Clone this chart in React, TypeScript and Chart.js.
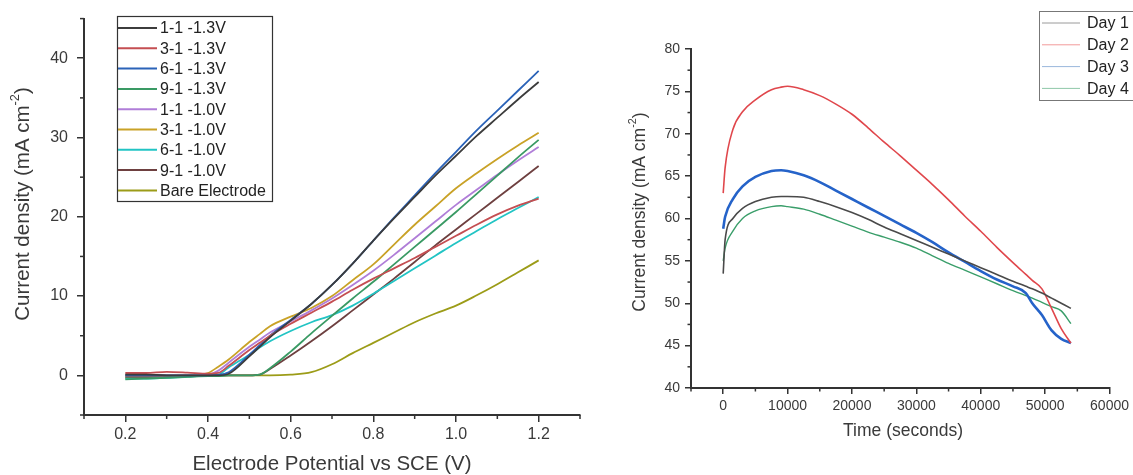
import React, { useEffect, useRef } from "react";
import { Chart, registerables } from "chart.js";

Chart.register(...registerables);

const FONT = '"Liberation Sans", Arial, Helvetica, sans-serif';

// ---------- Left chart: LSV ----------
const potentials = [0.2, 0.25, 0.3, 0.35, 0.4, 0.425, 0.45, 0.5, 0.525, 0.55, 0.6, 0.65, 0.7, 0.75, 0.8, 0.85, 0.9, 0.95, 1.0, 1.05, 1.1, 1.15, 1.2];
const lsvLabels = ["1-1 -1.3V", "3-1 -1.3V", "6-1 -1.3V", "9-1 -1.3V", "1-1 -1.0V", "3-1 -1.0V", "6-1 -1.0V", "9-1 -1.0V", "Bare Electrode"];
const lsvColors = ["#3c3c3c", "#c44e52", "#2b63b8", "#3a9a64", "#b07ed8", "#c9a227", "#22c4c4", "#6e4040", "#9c9c18"];
const s11_13 = [0.1, 0.1, 0, 0, 0, 0, 0.2, 2.4, 3.6, 4.8, 6.9, 9.0, 11.4, 14.1, 17.0, 19.8, 22.5, 25.2, 27.7, 30.2, 32.5, 34.8, 37.0];
const s31_13 = [0.3, 0.3, 0.45, 0.35, 0.2, 0.3, 1.2, 3.2, 4.1, 5.0, 6.5, 7.9, 9.3, 10.8, 12.2, 13.5, 14.8, 16.2, 17.6, 19.0, 20.3, 21.4, 22.3];
const s61_13 = [0, 0, 0, 0, 0, 0.05, 0.4, 2.6, 3.8, 5.0, 7.0, 9.0, 11.4, 14.1, 17.0, 19.9, 22.7, 25.5, 28.2, 30.9, 33.4, 35.9, 38.4];
const s91_13 = [-0.5, -0.4, -0.3, -0.2, -0.1, -0.1, 0, 0, 0.1, 0.9, 3.0, 5.3, 7.5, 9.7, 11.8, 14.0, 16.2, 18.4, 20.6, 22.9, 25.2, 27.5, 29.7];
const s11_10 = [0, 0, 0, 0, 0.1, 0.6, 1.6, 3.6, 4.5, 5.4, 6.8, 8.2, 9.7, 11.4, 13.2, 15.2, 17.3, 19.4, 21.5, 23.4, 25.3, 27.1, 28.8];
const s31_10 = [0, 0, 0, 0, 0.3, 1.1, 2.0, 4.2, 5.2, 6.2, 7.4, 8.5, 10.0, 12.0, 14.0, 16.5, 19.0, 21.3, 23.6, 25.5, 27.3, 29.0, 30.6];
const s61_10 = [-0.4, -0.4, -0.3, -0.2, 0, 0.1, 1.0, 2.6, 3.5, 4.3, 5.6, 6.7, 7.6, 8.8, 10.3, 11.9, 13.5, 15.1, 16.7, 18.2, 19.7, 21.1, 22.5];
const s91_10 = [-0.2, -0.2, -0.1, 0, 0, 0, 0, 0, 0.1, 0.8, 2.5, 4.3, 6.2, 8.2, 10.2, 12.2, 14.3, 16.4, 18.4, 20.4, 22.4, 24.4, 26.4];
const sBare = [-0.3, -0.3, -0.2, -0.1, 0, 0, 0, 0, 0, 0, 0.1, 0.4, 1.4, 2.8, 4.1, 5.4, 6.7, 7.8, 8.8, 10.1, 11.5, 13.0, 14.5];
const lsvSeries = [s11_13, s31_13, s61_13, s91_13, s11_10, s31_10, s61_10, s91_10, sBare];
const lsvXMajor = [0.2, 0.4, 0.6, 0.8, 1.0, 1.2];
const lsvXMinor = [0.1, 0.3, 0.5, 0.7, 0.9, 1.1, 1.3];
const lsvYMajor = [0, 10, 20, 30, 40];
const lsvYMinor = [-5, 5, 15, 25, 35, 45];

// ---------- Right chart: chronoamperometry ----------
const times = [0, 300, 1500, 3000, 5000, 7500, 9000, 10000, 12500, 15000, 17500, 20000, 22500, 25000, 27500, 30000, 32500, 35000, 37500, 40000, 42500, 45000, 47000, 48000, 49500, 51000, 52500, 54000];
const dayLabels = ["Day 1", "Day 2", "Day 3", "Day 4"];
const dayColors = ["#4a4a4a", "#e0474c", "#2563c9", "#3a9e6a"];
const dayLegendColors = ["#9a9a9a", "#f29a9a", "#9ab8dc", "#8fc8a8"];
const dayWidths = [1.6, 1.6, 2.6, 1.4];
const day1 = [53.5, 57.5, 60.0, 61.2, 62.0, 62.5, 62.6, 62.6, 62.5, 62.0, 61.4, 60.7, 59.9, 59.0, 58.2, 57.4, 56.6, 55.8, 55.0, 54.2, 53.4, 52.6, 52.0, 51.7, 51.2, 50.6, 50.0, 49.4];
const day2 = [63.0, 66.0, 70.5, 72.6, 74.0, 75.2, 75.5, 75.6, 75.2, 74.5, 73.5, 72.3, 70.7, 69.0, 67.4, 65.7, 64.0, 62.2, 60.3, 58.5, 56.6, 54.8, 53.4, 52.7, 51.7, 49.4, 47.0, 45.3];
const day3 = [58.8, 60.2, 62.3, 63.8, 64.9, 65.6, 65.7, 65.6, 65.1, 64.3, 63.3, 62.3, 61.3, 60.3, 59.3, 58.3, 57.2, 56.0, 54.9, 53.8, 52.8, 52.0, 51.2, 50.0, 48.6, 46.8, 45.8, 45.3];
const day4 = [55.0, 56.5, 58.5, 60.0, 60.9, 61.4, 61.5, 61.4, 61.1, 60.5, 59.8, 59.1, 58.4, 57.8, 57.2, 56.5, 55.6, 54.7, 53.9, 53.1, 52.3, 51.5, 50.9, 50.6, 50.1, 49.6, 49.1, 47.6];
const daySeries = [day1, day2, day3, day4];
const timeXMajor = [0, 10000, 20000, 30000, 40000, 50000, 60000];
const timeXMinor = [-5000, 5000, 15000, 25000, 35000, 45000, 55000];
const timeYMajor = [40, 45, 50, 55, 60, 65, 70, 75, 80];
const timeYMinor = [42.5, 47.5, 52.5, 57.5, 62.5, 67.5, 72.5, 77.5];

const Y_TITLE_MAIN = "Current density (mA cm";
const Y_TITLE_SUP = "-2";
const Y_TITLE_END = ")";

function drawTitle(ctx: CanvasRenderingContext2D, cx: number, cy: number, size: number, rotated: boolean, parts: { t: string; sup?: boolean }[], color: string) {
  ctx.save();
  const supSize = size * 0.62;
  const widths = parts.map((p) => {
    ctx.font = `${p.sup ? supSize : size}px ${FONT}`;
    return ctx.measureText(p.t).width;
  });
  const total = widths.reduce((a, b) => a + b, 0);
  ctx.translate(cx, cy);
  if (rotated) ctx.rotate(-Math.PI / 2);
  ctx.fillStyle = color;
  ctx.textBaseline = "middle";
  ctx.textAlign = "left";
  let x = -total / 2;
  parts.forEach((p, i) => {
    ctx.font = `${p.sup ? supSize : size}px ${FONT}`;
    ctx.fillText(p.t, x, p.sup ? -size * 0.38 : 0);
    x += widths[i];
  });
  ctx.restore();
}

function minorTicks(chart: any, axis: string, values: number[], len: number, color: string) {
  const sc = chart.scales[axis];
  const ctx = chart.ctx;
  ctx.save();
  ctx.strokeStyle = color;
  ctx.lineWidth = 1.5;
  values.forEach((v) => {
    const p = sc.getPixelForValue(v);
    ctx.beginPath();
    if (axis === "x") {
      ctx.moveTo(p, sc.top);
      ctx.lineTo(p, sc.top + len);
    } else {
      ctx.moveTo(sc.right - len, p);
      ctx.lineTo(sc.right, p);
    }
    ctx.stroke();
  });
  ctx.restore();
}

function axisOpts(min: number, max: number, majors: number[], fontSize: number, tickLen: number, pad: number, color: string, fmt: (v: number) => string, fitSize: number, horizontal: boolean) {
  return {
    type: "linear",
    min,
    max,
    afterBuildTicks: (ax: any) => {
      ax.ticks = majors.map((value) => ({ value }));
    },
    afterFit: (ax: any) => {
      if (horizontal) ax.height = fitSize;
      else ax.width = fitSize;
    },
    grid: { display: true, drawOnChartArea: false, drawTicks: true, tickLength: tickLen, color, lineWidth: 1.5 },
    border: { display: true, color, width: 2 },
    ticks: {
      font: { family: FONT, size: fontSize },
      color: "#3a3a3a",
      padding: pad,
      maxRotation: 0,
      autoSkip: false,
      callback: (v: any) => fmt(Number(v)),
    },
    title: { display: false },
  };
}

function LsvChart() {
  const ref = useRef<HTMLCanvasElement>(null);
  useEffect(() => {
    if (!ref.current) return;
    const plugin = {
      id: "lsvDecor",
      afterDraw(chart: any) {
        const ctx = chart.ctx;
        minorTicks(chart, "x", lsvXMinor, 4, "#333");
        minorTicks(chart, "y", lsvYMinor, 4, "#333");
        drawTitle(ctx, 23, 204, 20.5, true, [{ t: Y_TITLE_MAIN }, { t: Y_TITLE_SUP, sup: true }, { t: Y_TITLE_END }], "#3a3a3a");
        drawTitle(ctx, 332, 464, 20.5, false, [{ t: "Electrode Potential vs SCE (V)" }], "#3a3a3a");
        ctx.save();
        ctx.fillStyle = "#fff";
        ctx.fillRect(117, 16, 155, 185);
        ctx.strokeStyle = "#333";
        ctx.lineWidth = 1.2;
        ctx.strokeRect(117.5, 16.5, 155, 185);
        chart.data.datasets.forEach((ds: any, i: number) => {
          const y = 28 + i * 20.3;
          ctx.strokeStyle = ds.borderColor;
          ctx.lineWidth = 2;
          ctx.beginPath();
          ctx.moveTo(118, y);
          ctx.lineTo(157, y);
          ctx.stroke();
          ctx.fillStyle = "#222";
          ctx.font = `16px ${FONT}`;
          ctx.textBaseline = "middle";
          ctx.textAlign = "left";
          ctx.fillText(ds.label, 160, y + 1);
        });
        ctx.restore();
      },
    };
    const chart = new Chart(ref.current, {
      type: "line",
      data: {
        datasets: lsvSeries.map((s, i) => ({
          label: lsvLabels[i],
          data: s.map((y, k) => ({ x: potentials[k], y })),
          borderColor: lsvColors[i],
          backgroundColor: lsvColors[i],
          borderWidth: 1.8,
          pointRadius: 0,
          cubicInterpolationMode: "monotone",
          fill: false,
        })),
      },
      options: {
        animation: false,
        responsive: false,
        devicePixelRatio: 1,
        layout: { padding: { top: 14, right: 20, left: 0, bottom: 0 } },
        plugins: { legend: { display: false }, tooltip: { enabled: false }, title: { display: false } },
        scales: {
          x: axisOpts(0.1, 1.3, lsvXMajor, 16, 7, 3, "#333", (v) => v.toFixed(1), 60, true),
          y: axisOpts(-5, 45, lsvYMajor, 16, 7, 9, "#333", (v) => String(v), 84, false),
        },
      } as any,
      plugins: [plugin],
    });
    return () => chart.destroy();
  }, []);
  return <canvas ref={ref} width={600} height={475} style={{ position: "absolute", left: 0, top: 0, width: 600, height: 475 }} />;
}

function TimeChart() {
  const ref = useRef<HTMLCanvasElement>(null);
  useEffect(() => {
    if (!ref.current) return;
    const plugin = {
      id: "timeDecor",
      afterDraw(chart: any) {
        const ctx = chart.ctx;
        minorTicks(chart, "x", timeXMinor, 3.5, "#333");
        minorTicks(chart, "y", timeYMinor, 3.5, "#333");
        drawTitle(ctx, 40, 212, 17.5, true, [{ t: Y_TITLE_MAIN }, { t: Y_TITLE_SUP, sup: true }, { t: Y_TITLE_END }], "#3a3a3a");
        drawTitle(ctx, 303, 431, 17.5, false, [{ t: "Time (seconds)" }], "#3a3a3a");
        ctx.save();
        ctx.fillStyle = "#fff";
        ctx.fillRect(439, 11, 120, 89);
        ctx.strokeStyle = "#777";
        ctx.lineWidth = 1;
        ctx.strokeRect(439.5, 11.5, 120, 89);
        dayLabels.forEach((lab, i) => {
          const y = 23 + i * 21.8;
          ctx.strokeStyle = dayLegendColors[i];
          ctx.lineWidth = 1;
          ctx.beginPath();
          ctx.moveTo(442, y);
          ctx.lineTo(480, y);
          ctx.stroke();
          ctx.fillStyle = "#222";
          ctx.font = `16px ${FONT}`;
          ctx.textBaseline = "middle";
          ctx.textAlign = "left";
          ctx.fillText(lab, 487, y + 1);
        });
        ctx.restore();
      },
    };
    const chart = new Chart(ref.current, {
      type: "line",
      data: {
        datasets: daySeries.map((s, i) => ({
          label: dayLabels[i],
          data: s.map((y, k) => ({ x: times[k], y })),
          borderColor: dayColors[i],
          backgroundColor: dayColors[i],
          borderWidth: dayWidths[i],
          pointRadius: 0,
          cubicInterpolationMode: "monotone",
          fill: false,
        })),
      },
      options: {
        animation: false,
        responsive: false,
        devicePixelRatio: 1,
        layout: { padding: { top: 49, right: 21, left: 0, bottom: 0 } },
        plugins: { legend: { display: false }, tooltip: { enabled: false }, title: { display: false } },
        scales: {
          x: axisOpts(-5000, 60000, timeXMajor, 14, 6, 4, "#333", (v) => String(v), 87, true),
          y: axisOpts(40, 80, timeYMajor, 14, 6, 5, "#333", (v) => String(v), 91, false),
        },
      } as any,
      plugins: [plugin],
    });
    return () => chart.destroy();
  }, []);
  return <canvas ref={ref} width={533} height={475} style={{ position: "absolute", left: 600, top: 0, width: 533, height: 475 }} />;
}

export default function App() {
  return (
    <div style={{ position: "absolute", left: 0, top: 0, width: 1133, height: 475, background: "#ffffff", overflow: "hidden" }}>
      <LsvChart />
      <TimeChart />
    </div>
  );
}
